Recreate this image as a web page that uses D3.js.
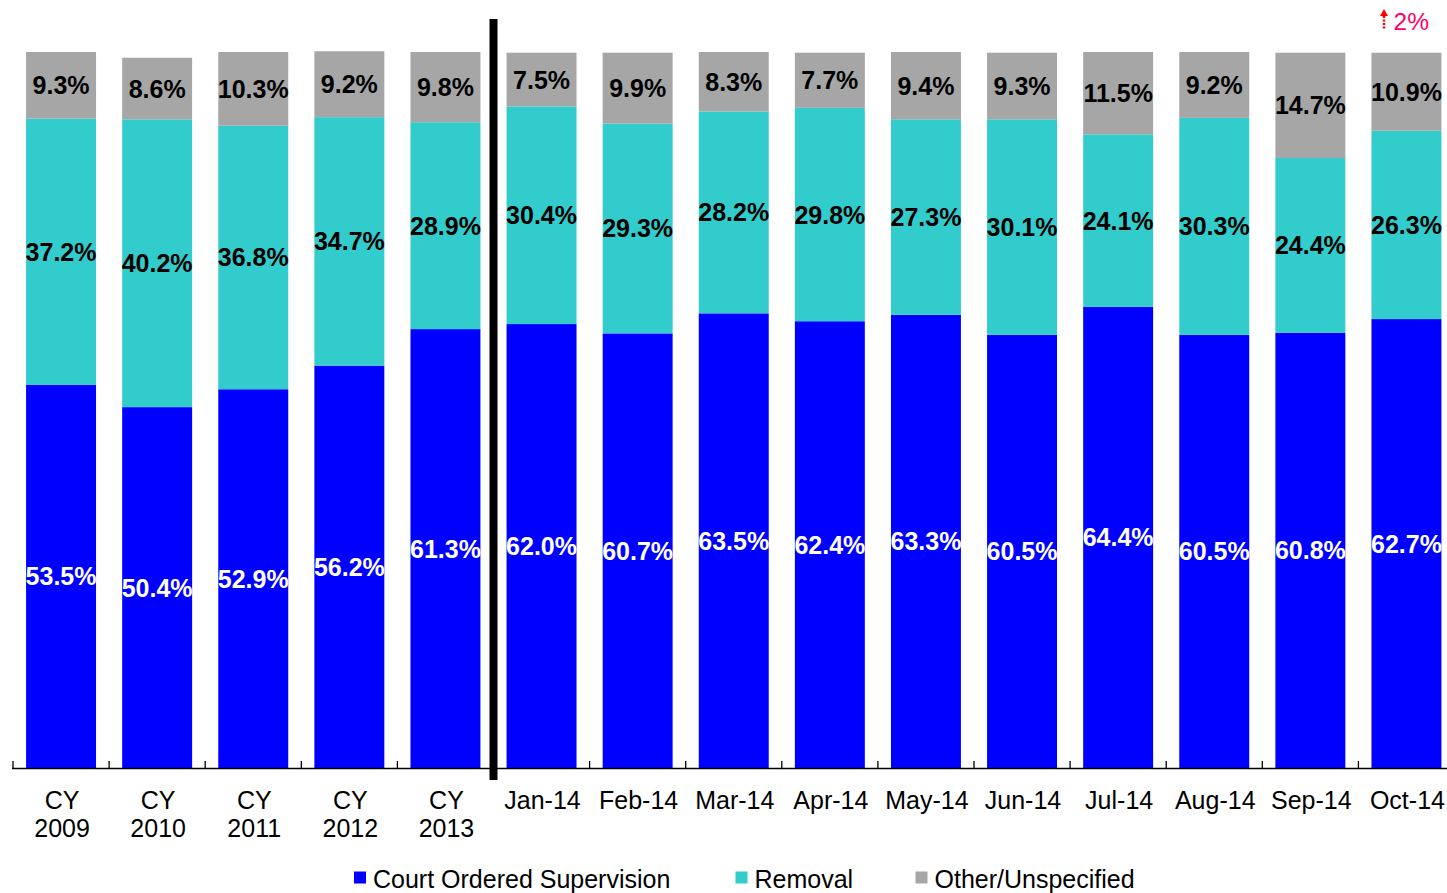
<!DOCTYPE html>
<html>
<head>
<meta charset="utf-8">
<script src="https://cdn.jsdelivr.net/npm/d3@7"></script>
<style>
  html, body { margin: 0; padding: 0; background: #fff; }
  svg { display: block; font-family: Arial, "Liberation Sans", sans-serif; }
</style>
</head>
<body>
<svg id="chart" width="1447" height="893"></svg>
<script>
const categories = ["CY\n2009", "CY\n2010", "CY\n2011", "CY\n2012", "CY\n2013",
  "Jan-14", "Feb-14", "Mar-14", "Apr-14", "May-14", "Jun-14", "Jul-14", "Aug-14", "Sep-14", "Oct-14"];
const seriesNames = ["Court Ordered Supervision", "Removal", "Other/Unspecified"];
const courtOrdered = [53.5, 50.4, 52.9, 56.2, 61.3, 62.0, 60.7, 63.5, 62.4, 63.3, 60.5, 64.4, 60.5, 60.8, 62.7];
const removal      = [37.2, 40.2, 36.8, 34.7, 28.9, 30.4, 29.3, 28.2, 29.8, 27.3, 30.1, 24.1, 30.3, 24.4, 26.3];
const other        = [9.3, 8.6, 10.3, 9.2, 9.8, 7.5, 9.9, 8.3, 7.7, 9.4, 9.3, 11.5, 9.2, 14.7, 10.9];
const annotationText = "2%";
const colors = ["#0000ff", "#33cccc", "#a6a6a6"];
const labelColors = ["#ffffff", "#000000", "#000000"];

const svg = d3.select("#chart");
const keys = ["court", "removal", "other"];
const rows = categories.map((c, i) => ({ cat: c, court: courtOrdered[i], removal: removal[i], other: other[i] }));
const stacked = d3.stack().keys(keys)(rows);

const x = d3.scaleBand().domain(categories).range([13, 1454.5]).paddingInner(0.272).paddingOuter(0.136);
const y = d3.scaleLinear().domain([0, 100]).range([768, 52]);

// bars
const layers = svg.append("g").selectAll("g").data(stacked).join("g")
  .attr("fill", (d, i) => colors[i]);
layers.selectAll("rect").data(d => d).join("rect")
  .attr("x", d => x(d.data.cat))
  .attr("width", x.bandwidth())
  .attr("y", d => y(d[1]))
  .attr("height", d => y(d[0]) - y(d[1]));

// labels
const fs = 25;
stacked.forEach((layer, li) => {
  svg.append("g").selectAll("text").data(layer).join("text")
    .attr("x", d => x(d.data.cat) + x.bandwidth() / 2)
    .attr("y", d => (y(d[0]) + y(d[1])) / 2 + fs * 0.36)
    .attr("text-anchor", "middle")
    .attr("font-size", fs)
    .attr("font-weight", "bold")
    .attr("fill", labelColors[li])
    .text(d => (d[1] - d[0]).toFixed(1) + "%");
});

// axis
const step = x.step();
const gap = step - x.bandwidth();
const ax = svg.append("g");
ax.append("line").attr("x1", 12).attr("x2", 1447).attr("y1", 768.5).attr("y2", 768.5)
  .attr("stroke", "#000").attr("stroke-width", 1.3);
categories.forEach(c => {
  const tx = x(c) - gap / 2;
  ax.append("line").attr("x1", tx).attr("x2", tx).attr("y1", 768.5).attr("y2", 761)
    .attr("stroke", "#000").attr("stroke-width", 1.3);
});
categories.forEach(c => {
  const lines = c.split("\n");
  const t = ax.append("text")
    .attr("x", x(c) + x.bandwidth() / 2 + 1)
    .attr("y", 809)
    .attr("text-anchor", "middle")
    .attr("font-size", 25)
    .attr("fill", "#000");
  lines.forEach((l, i) => {
    t.append("tspan").attr("x", x(c) + x.bandwidth() / 2 + 1).attr("dy", i === 0 ? 0 : 28).text(l);
  });
});

// separator line between yearly and monthly
const sepX = x(categories[5]) - gap / 2;
svg.append("rect").attr("x", sepX - 4).attr("width", 8).attr("y", 19).attr("height", 761).attr("fill", "#000");

// annotation arrow
const arrX = 1384;
svg.append("path").attr("d", `M${arrX - 4},16 L${arrX},9 L${arrX + 4},16 Z`).attr("fill", "#ff0000");
svg.append("line").attr("x1", arrX).attr("x2", arrX).attr("y1", 16).attr("y2", 29.5)
  .attr("stroke", "#ff0000").attr("stroke-width", 2.5).attr("stroke-dasharray", "2,1.5");
svg.append("text").attr("x", 1393.5).attr("y", 29.5).attr("font-size", 24.5).attr("fill", "#ff0066").text(annotationText);

// legend
const legendX = [354, 735.5, 915.5];
const lg = svg.append("g");
seriesNames.forEach((n, i) => {
  lg.append("rect").attr("x", legendX[i]).attr("y", 871.5).attr("width", 12).attr("height", 12).attr("fill", colors[i]);
  lg.append("text").attr("x", legendX[i] + 19).attr("y", 888).attr("font-size", 25).attr("fill", "#000").text(n);
});
</script>
</body>
</html>
